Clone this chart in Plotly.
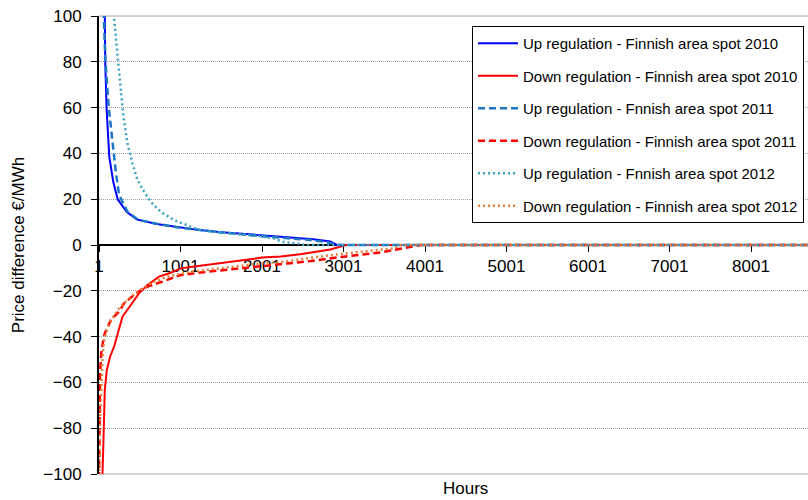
import plotly.graph_objects as go

# Duration curves of the price difference between regulating power and Finnish area spot
# (hours sorted by size of the difference, €/MWh)

hours_up_2010 = [1, 30, 72, 78, 95, 127, 176, 230, 340, 463, 708, 994, 1238, 1500, 2001, 2230, 2630, 2840, 2920, 8760]
price_up_2010 = [400, 160, 100, 79, 59, 38.6, 27.6, 20, 14.5, 11.2, 9.2, 7.6, 6.5, 5.6, 4.1, 3.4, 2.5, 1.5, 0, 0]

hours_down_2010 = [1, 30, 44, 56, 63, 72, 97, 137, 186, 247, 289, 391, 492, 595, 738, 881, 1003, 1126, 1493, 2001, 2230, 2470, 2840, 3030, 8760]
price_down_2010 = [-400, -160, -100, -85, -73.5, -63.3, -54.6, -48.8, -44.4, -37.1, -31.3, -26.2, -21.1, -17.5, -13.8, -12.1, -10.2, -9.6, -8, -5.5, -5, -4, -2, 0, 0]

hours_up_2011 = [1, 20, 60, 80, 121, 166, 207, 247, 350, 480, 750, 1000, 1250, 1500, 2001, 2300, 2600, 2800, 2950, 8760]
price_up_2011 = [400, 170, 100, 80, 60, 44, 32, 22, 14.5, 11, 9, 7.5, 6.4, 5.5, 3.8, 3.0, 2.2, 1.2, 0, 0]

hours_down_2011 = [1, 2, 14, 31, 72, 146, 247, 309, 452, 595, 779, 1003, 1330, 1739, 2147, 2600, 3000, 3455, 3615, 3910, 3950, 8760]
price_down_2011 = [-400, -100, -56, -45.9, -38.6, -32.8, -29.1, -25.5, -21.1, -18.2, -16, -13.1, -11.7, -10.2, -8.7, -7, -5.1, -3.3, -2.2, -0.4, 0, 0]

hours_up_2012 = [1, 100, 186, 235, 268, 301, 350, 411, 473, 554, 636, 758, 921, 1126, 1248, 1600, 2001, 2150, 2250, 2450, 2520, 8760]
price_up_2012 = [400, 200, 99, 79, 68, 56, 44.4, 35.7, 28.4, 23.3, 18.9, 14.5, 10.9, 8, 6.5, 5.2, 3.8, 2.8, 1.4, 0.6, 0, 0]

hours_down_2012 = [1, 2, 14, 31, 44, 63, 105, 166, 247, 350, 473, 636, 840, 1126, 1493, 1820, 2001, 2230, 2630, 3045, 3455, 3615, 3700, 8760]
price_down_2012 = [-400, -98, -76.4, -60, -50, -41.5, -36.4, -32, -27.6, -24, -20.4, -16.7, -13.8, -11.7, -10.2, -8.7, -8, -7.5, -5.4, -3.6, -2.2, -1.5, 0, 0]

series = [
    ("Up regulation - Finnish area spot 2010", hours_up_2010, price_up_2010, "#0000FF", "solid", 2),
    ("Down regulation - Finnish area spot 2010", hours_down_2010, price_down_2010, "#FF0000", "solid", 2),
    ("Up regulation - Fnnish area spot 2011", hours_up_2011, price_up_2011, "#1F77C4", "7px,4px", 2.5),
    ("Down regulation - Finnish area spot 2011", hours_down_2011, price_down_2011, "#FF0000", "7px,4px", 2.5),
    ("Up regulation - Fnnish area spot 2012", hours_up_2012, price_up_2012, "#3AA3C2", "2px,3px", 2.5),
    ("Down regulation - Finnish area spot 2012", hours_down_2012, price_down_2012, "#E2823A", "2px,3px", 2.5),
]

x_ticks = [1, 1001, 2001, 3001, 4001, 5001, 6001, 7001, 8001]
y_ticks = [-100, -80, -60, -40, -20, 0, 20, 40, 60, 80, 100]

FONT = "Liberation Sans, Arial, sans-serif"

fig = go.Figure()
for i, (name, hx, py, color, dash, width) in enumerate(series):
    fig.add_trace(go.Scatter(
        x=hx, y=py, mode="lines", name=name, legendgroup=f"g{i}",
        line=dict(color=color, dash=dash, width=width),
    ))

fig.update_layout(
    width=808, height=500,
    margin=dict(l=99, r=0, t=16, b=26),
    paper_bgcolor="white", plot_bgcolor="white",
    font=dict(family=FONT, size=17, color="black"),
    showlegend=True,
    legend=dict(
        x=0.9944, xanchor="right", y=0.978, yanchor="top",
        bgcolor="white", bordercolor="black", borderwidth=1,
        font=dict(family=FONT, size=15, color="black"),
        tracegroupgap=10, itemwidth=40,
    ),
    xaxis=dict(
        range=[1, 8700], tickvals=x_ticks,
        anchor="free", position=0.5,
        showline=True, linecolor="black", linewidth=2,
        ticks="outside", ticklen=6, tickcolor="black", tickwidth=1,
        showgrid=False, zeroline=False, layer="below traces",
        tickfont=dict(size=17),
    ),
    yaxis=dict(
        range=[-100, 100], tickvals=y_ticks,
        showline=True, linecolor="black", linewidth=2,
        ticks="outside", ticklen=6, tickcolor="black", tickwidth=1,
        showgrid=True, gridcolor="#A0A0A0", griddash="1px,1px", gridwidth=1,
        zeroline=False, layer="below traces",
        tickfont=dict(size=17), ticklabelstandoff=6,
    ),
    shapes=[
        dict(type="line", xref="paper", yref="paper", x0=0, x1=1, y0=0, y1=0,
             line=dict(color="#A6A6A6", width=1), layer="below"),
        dict(type="line", xref="paper", yref="paper", x0=0, x1=1, y0=1, y1=1,
             line=dict(color="#A6A6A6", width=1), layer="below"),
    ],
    annotations=[
        dict(text="Hours", xref="paper", yref="paper", x=0.5176, y=-0.0306,
             xanchor="center", yanchor="middle", showarrow=False,
             font=dict(family=FONT, size=17)),
        dict(text="Price difference €/MWh", xref="paper", yref="paper", x=-0.114, y=0.5,
             xanchor="center", yanchor="middle", textangle=-90, showarrow=False,
             font=dict(family=FONT, size=17)),
    ],
)

fig.write_html("out.html")
